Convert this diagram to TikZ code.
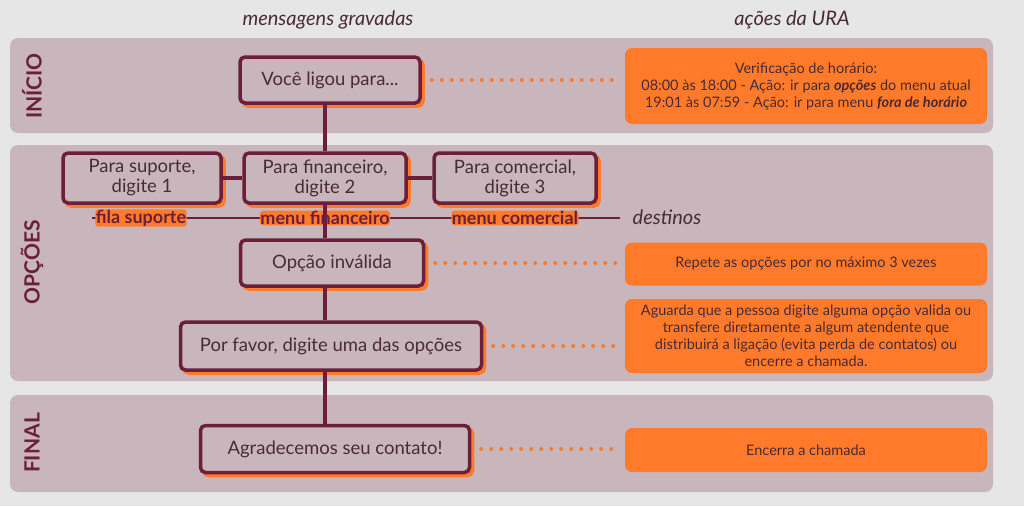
\documentclass[tikz,border=0pt]{standalone}
\usepackage{fontspec}
\setmainfont{Lato}
\usetikzlibrary{positioning}
\definecolor{fundo}{HTML}{E6E6E6}
\definecolor{faixa}{HTML}{C8B6BC}
\definecolor{vinho}{HTML}{6B1F3A}
\definecolor{laranja}{HTML}{FF7A2A}
\definecolor{texto}{HTML}{4A2A35}
\begin{document}
\begin{tikzpicture}[x=1pt,y=-1pt,
  font=\fontsize{18.5}{20}\selectfont, text=texto,
  band/.style={fill=faixa, rounded corners=8pt},
  msg/.style={draw=vinho, line width=3.5pt, fill=faixa, rounded corners=5pt, align=center,
     minimum height=46pt, inner xsep=6pt, inner ysep=3pt,
     preaction={fill=laranja, draw=laranja, transform canvas={shift={(3pt,-3pt)}}}},
  acao/.style={fill=laranja, rounded corners=7pt, align=center, minimum width=362pt,
     font=\fontsize{14.5}{17}\selectfont},
  tag/.style={font=\bfseries\fontsize{18}{20}\selectfont, text=vinho, fill=laranja,
     inner sep=0.5pt, rounded corners=3pt},
  side/.style={rotate=90, font=\bfseries\fontsize{21}{23}\selectfont, text=vinho},
  dots/.style={laranja, line width=4pt, dash pattern=on 0pt off 10pt, line cap=round},
  link/.style={vinho, line width=3.5pt}]
\fill[fundo] (0,0) rectangle (1024,506);
\useasboundingbox (0,0) rectangle (1024,506);
% faixas
\fill[band] (10,38) rectangle (993,133);
\fill[band] (10,145) rectangle (993,381);
\fill[band] (10,395) rectangle (993,492);
\node[side] (sini) at (32,86) {INÍCIO};
\node[side] (sopc) at (32,262) {OPÇÕES};
\node[side] (sfim) at (32,443) {FINAL};
\node[font=\itshape\fontsize{20}{22}\selectfont] (hmsg) at (328,20) {mensagens gravadas};
\node[font=\itshape\fontsize{20}{22}\selectfont] (hura) at (792,20) {ações da URA};
% destinos
\coordinate (d0) at (92,218);
\coordinate (d1) at (620,218);
\draw[vinho, line width=1.2pt] (d0) -- (d1);
\node[tag] (fsup) at (141,218) {fila suporte};
\node[tag] (mfin) at (325,218) {menu financeiro};
\node[tag] (mcom) at (515,218) {menu comercial};
\node[font=\itshape\fontsize{20}{22}\selectfont] (dest) at (667,217) {destinos};
% mensagens
\node[msg, minimum width=180pt] (ligou) at (330,80) {Você ligou para...};
\node[msg, minimum width=158pt, minimum height=50pt] (sup) at (142,178) {Para suporte,\\digite 1};
\node[msg, minimum width=162pt, minimum height=50pt] (fin) at (325,178) {Para financeiro,\\digite 2};
\node[msg, minimum width=162pt, minimum height=50pt] (com) at (515,178) {Para comercial,\\digite 3};
\node[msg, minimum width=183pt] (inv) at (332,263) {Opção inválida};
\node[msg, minimum width=301pt, minimum height=48pt] (favor) at (331,346) {Por favor, digite uma das opções};
\node[msg, minimum width=269pt, minimum height=47pt] (agr) at (335,449) {Agradecemos seu contato!};
% ligacoes
\draw[link] (ligou.south -| fin.north) -- (fin.north);
\draw[link] (sup.east) -- (fin.west);
\draw[link] (fin.east) -- (com.west);
\draw[link] (fin.south) -- (fin.south |- inv.north);
\draw[link] (fin.south |- inv.south) -- (fin.south |- favor.north);
\draw[link] (fin.south |- favor.south) -- (fin.south |- agr.north);
% acoes da URA
\node[acao, minimum height=76pt] (a1) at (806,86) {Verificação de horário:\\08:00 às 18:00 - Ação: ir para \textbf{\textit{opções}} do menu atual\\19:01 às 07:59 - Ação: ir para menu \textbf{\textit{fora de horário}}};
\node[acao, minimum height=43pt] (a2) at (806,264) {Repete as opções por no máximo 3 vezes};
\node[acao, minimum height=74pt] (a3) at (806,336) {Aguarda que a pessoa digite alguma opção valida ou\\transfere diretamente a algum atendente que\\distribuirá a ligação (evita perda de contatos) ou\\encerre a chamada.};
\node[acao, minimum height=44pt] (a4) at (806,450) {Encerra a chamada};
\draw[dots] ([xshift=10pt]ligou.east) -- ([xshift=-4pt]a1.west |- ligou.east);
\draw[dots] ([xshift=10pt]inv.east) -- ([xshift=-4pt]a2.west |- inv.east);
\draw[dots] ([xshift=10pt]favor.east) -- ([xshift=-4pt]a3.west |- favor.east);
\draw[dots] ([xshift=10pt]agr.east) -- ([xshift=-4pt]a4.west |- agr.east);
\end{tikzpicture}
\end{document}
